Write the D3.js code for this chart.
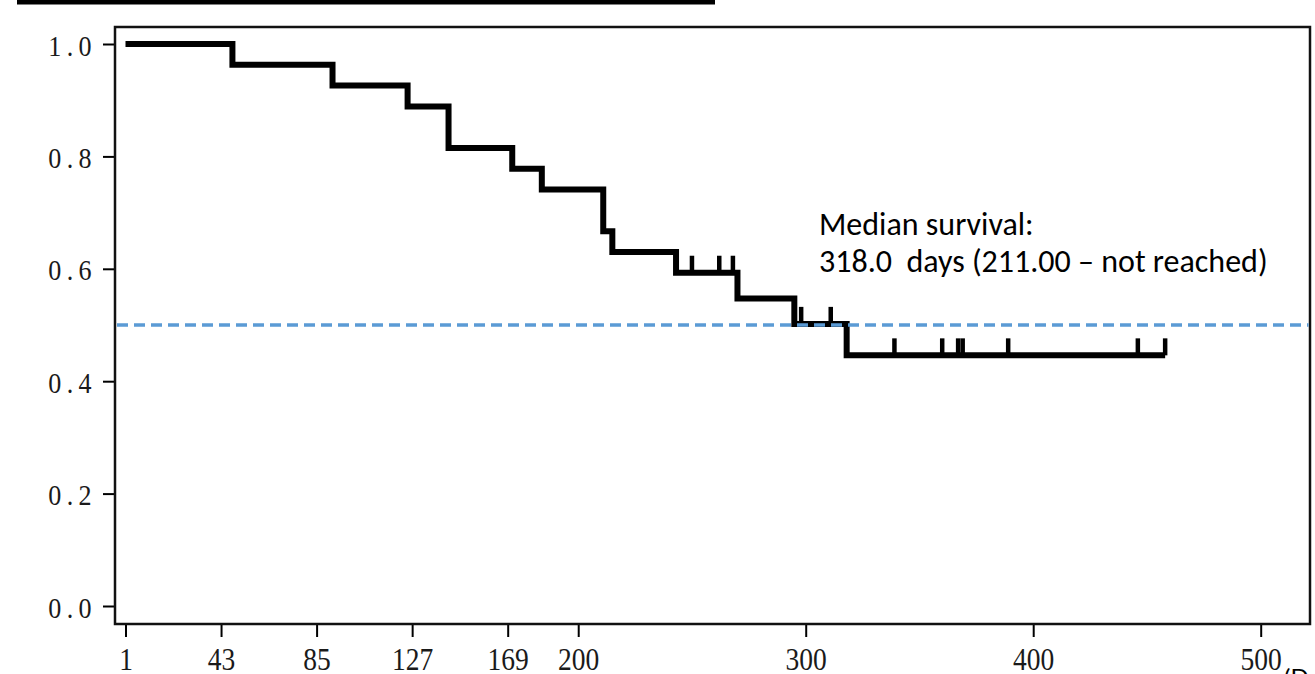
<!DOCTYPE html>
<html>
<head>
<meta charset="utf-8">
<script src="https://cdn.jsdelivr.net/npm/d3@7/dist/d3.min.js"></script>
<style>
  html, body { margin: 0; padding: 0; background: #fff; overflow: hidden; }
  svg { display: block; }
</style>
</head>
<body>
<script>
// Kaplan–Meier estimate: day of each event and survival after it
const eventDays = [1, 48, 92, 125, 143, 171, 184, 211, 215, 243, 270, 295, 318];
const survival  = [1.0, 0.963, 0.926, 0.889, 0.815, 0.778, 0.741, 0.667, 0.630, 0.593, 0.547, 0.502, 0.446];
const lastFollowUp = 458;
// censored observations (tick marks on the curve)
const censorDays = [250, 262, 268, 298, 311, 339, 360, 367, 369, 389, 446, 458];
// axes
const xTicks = [1, 43, 85, 127, 169, 200, 300, 400, 500];
const yTicks = [0, 0.2, 0.4, 0.6, 0.8, 1.0];
const medianLevel = 0.5;
const annotationLines = ["Median survival:", "318.0  days (211.00 – not reached)"];
const xUnit = "(Days)";

const W = 1315, H = 674;
const frame = { left: 115, top: 27, right: 1310, bottom: 624 };

const svg = d3.select("body").append("svg")
  .attr("width", W).attr("height", H)
  .attr("viewBox", `0 0 ${W} ${H}`);

const x = d3.scaleLinear().domain([1, 500]).range([125.5, 1260.7]);
const y = d3.scaleLinear().domain([0, 1]).range([606, 44]);

// underline of the figure heading
svg.append("rect")
  .attr("x", 17).attr("y", 0)
  .attr("width", 698).attr("height", 4.5)
  .attr("fill", "#000");

const tickFont = "'Liberation Serif', 'Times New Roman', serif";

// x axis
const gx = svg.append("g")
  .attr("transform", `translate(0,${frame.bottom})`)
  .call(d3.axisBottom(x).tickValues(xTicks).tickSize(13).tickFormat(d3.format("d")));
gx.select(".domain").remove();
gx.selectAll(".tick line").attr("stroke", "#000").attr("stroke-width", 2);
gx.selectAll(".tick text")
  .attr("y", 46).attr("dy", null)
  .attr("transform", "scale(0.86,1)")
  .style("font-family", tickFont)
  .style("font-size", "32px")
  .attr("fill", "#1a1a1a");

// y axis
const yScaleX = 0.9;
const gy = svg.append("g")
  .attr("transform", `translate(${frame.left},0)`)
  .call(d3.axisLeft(y).tickValues(yTicks).tickSize(12).tickFormat(d3.format(".1f")));
gy.select(".domain").remove();
gy.selectAll(".tick line").attr("stroke", "#000").attr("stroke-width", 2);
gy.selectAll(".tick text")
  .attr("x", -18 / yScaleX).attr("dy", "0.38em")
  .attr("transform", `scale(${yScaleX},1)`)
  .style("font-family", tickFont)
  .style("font-size", "29px")
  .style("letter-spacing", "6px")
  .attr("fill", "#1a1a1a");

// x unit, partly beyond the lower edge
svg.append("text")
  .attr("x", 1284).attr("y", 686)
  .style("font-family", "Lato, 'Noto Sans', sans-serif")
  .style("font-size", "24px")
  .attr("fill", "#000")
  .text(xUnit);

// plot frame
svg.append("rect")
  .attr("x", frame.left).attr("y", frame.top)
  .attr("width", frame.right - frame.left)
  .attr("height", frame.bottom - frame.top)
  .attr("fill", "none")
  .attr("stroke", "#111")
  .attr("stroke-width", 2.5);

// survival curve
const points = eventDays.map((d, i) => [d, survival[i]]);
points.push([lastFollowUp, survival[survival.length - 1]]);

const stepLine = d3.line()
  .x(d => x(d[0]))
  .y(d => y(d[1]))
  .curve(d3.curveStepAfter);

svg.append("path")
  .datum(points)
  .attr("d", stepLine)
  .attr("fill", "none")
  .attr("stroke", "#000")
  .attr("stroke-width", 6)
  .attr("stroke-linejoin", "miter")
  .attr("stroke-linecap", "butt");

// censor marks
const survivalAt = d => survival[d3.bisectRight(eventDays, d) - 1];
svg.append("g").selectAll("line")
  .data(censorDays)
  .join("line")
  .attr("x1", d => x(d)).attr("x2", d => x(d))
  .attr("y1", d => y(survivalAt(d)))
  .attr("y2", d => y(survivalAt(d)) - 17)
  .attr("stroke", "#000")
  .attr("stroke-width", 4.5);

// median reference line
svg.append("line")
  .attr("x1", frame.left + 2).attr("x2", frame.right - 1.5)
  .attr("y1", y(medianLevel)).attr("y2", y(medianLevel))
  .attr("stroke", "#5b9bd5")
  .attr("stroke-width", 3.5)
  .attr("stroke-dasharray", "11,6");

// median annotation
const note = svg.append("text")
  .attr("x", 819).attr("y", 235)
  .style("font-family", "Carlito, Calibri, Lato, 'Noto Sans', sans-serif")
  .style("font-size", "32px")
  .style("white-space", "pre")
  .attr("fill", "#000");
note.selectAll("tspan")
  .data(annotationLines)
  .join("tspan")
  .attr("x", 819)
  .attr("dy", (d, i) => i === 0 ? 0 : 37)
  .text(d => d);
</script>
</body>
</html>
